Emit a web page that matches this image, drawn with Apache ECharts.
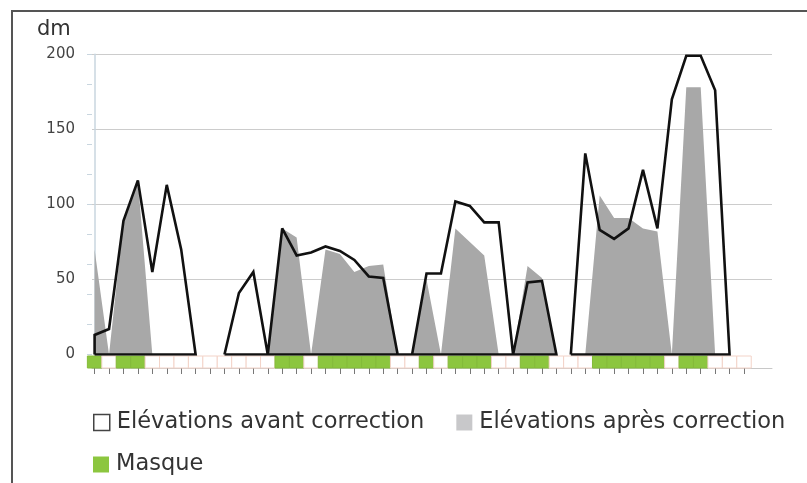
<!DOCTYPE html>
<html><head><meta charset="utf-8">
<script src="https://cdn.jsdelivr.net/npm/echarts@6/dist/echarts.min.js"></script>
<style>html,body{margin:0;padding:0;background:#fff}#c{width:807px;height:483px}</style>
</head><body><div id="c"></div>
<script>
// Elevations before correction (null = no polygon), one value per position 0..45
const avant = [13,17,89,116,55,113,70,0,null,0,41,55,0,84,66,68,72,69,63,52,51,0,0,54,54,102,99,88,88,0,48,49,0,0,134,83,77,84,123,84,170,199,199,176,0,null];
// Closed polygons of the "avant" outline: [first, last] position
const avantGroups = [[0,7],[9,32],[33,44]];
// Elevations after correction
const apres = [70,0,89,116,0,0,0,0,0,0,0,0,0,84,78,0,70,67,55,59,60,0,0,50,0,84,75,66,0,0,59,51,0,0,0,106,91,91,84,82,0,178,178,0,0,0];
// Mask (1 = green)
const masque = [1,0,1,1,0,0,0,0,0,0,0,0,0,1,1,0,1,1,1,1,1,0,0,1,0,1,1,1,0,0,1,1,0,0,0,1,1,1,1,1,0,1,1,0,0,0];
const yLabelTicks = [0,50,100,150,200];
const seriesNames = ['Elévations avant correction','Elévations après correction','Masque'];
const unitLabel = 'dm';

const FONT = 'DejaVu Sans';
const chart = echarts.init(document.getElementById('c'), null, {renderer:'canvas'});

const avantPath = [];
avantGroups.forEach(([s,e]) => {
  avantPath.push([s,0]);
  for (let i = s; i <= e; i++) avantPath.push([i, avant[i]]);
  avantPath.push([e,0]);
  avantPath.push([s,0]);
  avantPath.push([null,null]);
});
const apresData = apres.map((v,i)=>[i,v]);
const maskData = masque.map((v,i)=>[i,v]);
const tickPositions = masque.map((v,i)=>i);

const X_MIN = -0.18, X_MAX = 46.94;
const GREEN = '#8cc63f';

chart.setOption({
  animation:false,
  textStyle:{fontFamily:FONT},
  title:{text:unitLabel, left:32, top:14, textStyle:{fontSize:21, fontWeight:'normal', color:'#333', fontFamily:FONT}},
  graphic:[
    {type:'line', shape:{x1:12, y1:11, x2:807, y2:11}, style:{stroke:'#555', lineWidth:2}},
    {type:'line', shape:{x1:12, y1:10, x2:12, y2:483}, style:{stroke:'#555', lineWidth:2}}
  ],
  grid:[
    {left:92, top:54.3, width:680, height:300.2},
    {left:92, top:356, width:680, height:12}
  ],
  xAxis:[
    {gridIndex:0, type:'value', min:X_MIN, max:X_MAX, show:false},
    {gridIndex:1, type:'value', min:X_MIN, max:X_MAX,
      axisLine:{show:true, lineStyle:{color:'#c8c8c8', width:1}},
      axisTick:{show:true, customValues:tickPositions, length:6, lineStyle:{color:'#777', width:1}},
      axisLabel:{show:false}, splitLine:{show:false}}
  ],
  yAxis:[
    {gridIndex:0, type:'value', min:0, max:200, interval:50, position:'left',
      axisLine:{show:true, lineStyle:{color:'#c9d6df', width:1.5}},
      axisTick:{show:false},
      axisLabel:{customValues:yLabelTicks, fontSize:15, color:'#444', margin:17, fontFamily:FONT},
      splitLine:{show:true, showMinLine:false, lineStyle:{color:'#cccccc', width:1}}},
    {gridIndex:0, type:'value', min:0, max:200, interval:20, position:'left',
      axisLine:{show:false}, axisTick:{show:true, length:5, lineStyle:{color:'#c9d6df'}},
      axisLabel:{show:false}, splitLine:{show:false}},
    {gridIndex:1, type:'value', min:0, max:1, show:false}
  ],
  legend:[
    {left:88, top:406, itemWidth:16, itemHeight:16, itemGap:32, selectedMode:false,
      textStyle:{fontSize:22.5, color:'#333', fontFamily:FONT, padding:[0,0,0,2]},
      data:[
        {name:seriesNames[0], icon:'rect', itemStyle:{color:'#fff', borderColor:'#444', borderWidth:1.5}},
        {name:seriesNames[1], icon:'rect', itemStyle:{color:'#c8c8ca'}}
      ]},
    {left:88, top:448, itemWidth:16, itemHeight:16, selectedMode:false,
      textStyle:{fontSize:22.5, color:'#333', fontFamily:FONT, padding:[0,0,0,2]},
      data:[{name:seriesNames[2], icon:'rect', itemStyle:{color:GREEN}}]}
  ],
  series:[
    {type:'custom', name:seriesNames[2], xAxisIndex:1, yAxisIndex:2, itemStyle:{color:GREEN},
      data:maskData, silent:true,
      renderItem:(params, api) => {
        const i = api.value(0), v = api.value(1);
        const p0 = api.coord([i-0.5, 1]), p1 = api.coord([i+0.5, 0]);
        return {type:'rect', shape:{x:p0[0], y:p0[1], width:p1[0]-p0[0], height:p1[1]-p0[1]},
          style:{fill: v ? GREEN : '#ffffff', stroke: v ? '#84bb3a' : '#f3d3c8', lineWidth:1}};
      }},
    {type:'line', name:seriesNames[1], xAxisIndex:0, yAxisIndex:0, data:apresData,
      symbol:'none', lineStyle:{width:0}, areaStyle:{color:'#a8a8a8', opacity:1}, silent:true, z:2},
    {type:'line', name:seriesNames[0], xAxisIndex:0, yAxisIndex:0, data:avantPath,
      symbol:'none', connectNulls:false, lineStyle:{color:'#111', width:2.6, join:'miter', miterLimit:3}, silent:true, z:3}
  ]
});
</script></body></html>
